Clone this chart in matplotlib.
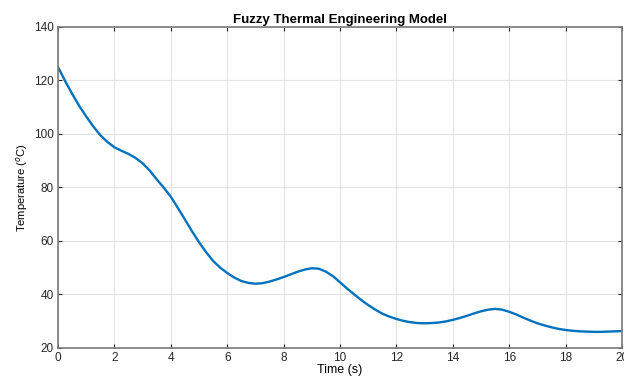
import matplotlib
matplotlib.use("Agg")
import matplotlib.pyplot as plt
import numpy as np

# readings, every 0.25 s
time_s = np.arange(0, 20.25, 0.25)
temp_c = [125, 119.8, 115, 110.5, 106.5, 102.8, 99.5, 97, 95, 93.7,
          92.5, 91, 89, 86.3, 83, 79.9, 76.5, 72.3, 68, 63.6,
          59.5, 55.8, 52.5, 50, 48, 46.3, 45, 44.3, 44, 44.2,
          44.8, 45.6, 46.5, 47.5, 48.5, 49.3, 49.8, 49.6, 48.5, 46.8,
          44.5, 42.2, 40, 37.9, 36, 34.3, 32.8, 31.7, 30.8, 30.1,
          29.6, 29.3, 29.2, 29.3, 29.5, 29.9, 30.5, 31.2, 32, 32.9,
          33.7, 34.3, 34.6, 34.3, 33.5, 32.5, 31.3, 30.2, 29.2, 28.4,
          27.7, 27.1, 26.7, 26.4, 26.2, 26.1, 26, 26, 26.1, 26.2, 26.3]
xticks = list(range(0, 21, 2))
yticks = list(range(20, 141, 20))

plt.rcParams['font.family'] = ['Liberation Sans', 'DejaVu Sans']

fig = plt.figure(figsize=(6.24, 3.79), dpi=100)
ax = fig.add_axes([0.093, 0.082, 0.904, 0.847])

ax.plot(time_s, temp_c, color='#0072BD', lw=1.7, solid_joinstyle='round')

ax.set_xlim(0, 20)
ax.set_ylim(20, 140)
ax.set_xticks(xticks)
ax.set_yticks(yticks)
ax.grid(True, color='#e3e3e3', lw=0.8)
ax.set_axisbelow(True)
ax.tick_params(direction='in', top=True, right=True, labelsize=8.5,
               length=3, width=0.8, colors='#262626', pad=3)
for s in ax.spines.values():
    s.set_color('#7a7a7a')
    s.set_linewidth(1.2)

ax.set_title('Fuzzy Thermal Engineering Model', fontsize=9.5, fontweight='bold', pad=3)
ax.set_xlabel('Time (s)', fontsize=9, labelpad=0)
ax.set_ylabel('Temperature ($^o$C)', fontsize=8, labelpad=3)

fig.savefig('out.png', dpi=100)
